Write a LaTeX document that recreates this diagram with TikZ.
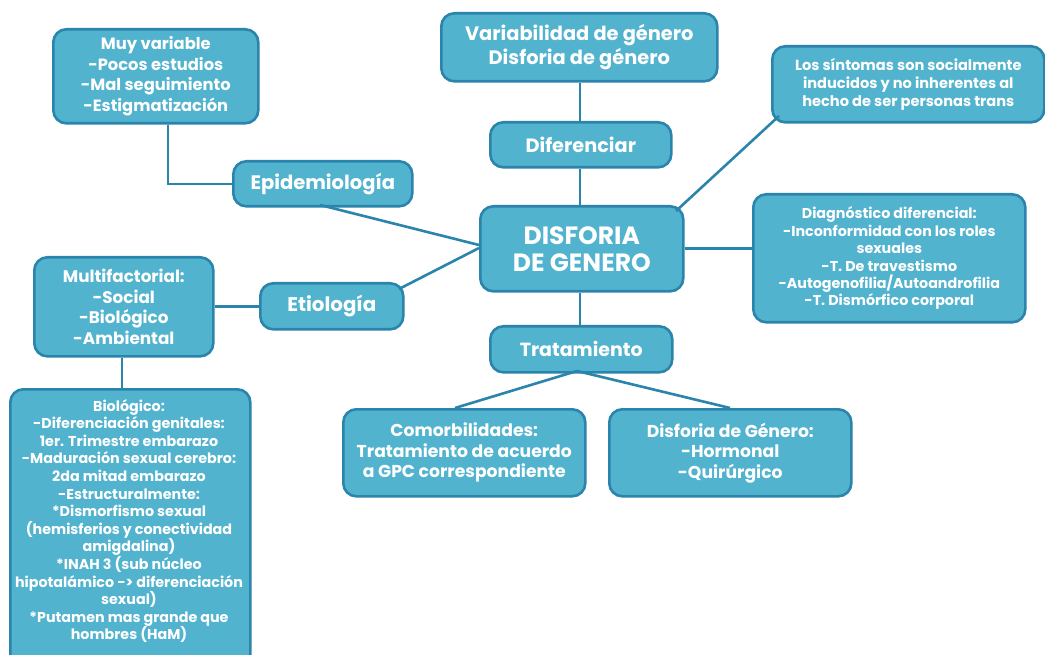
\documentclass[tikz,border=0pt]{standalone}
\usepackage{fontspec}
\setmainfont{Poppins}
\definecolor{boxfill}{HTML}{52B3CF}
\definecolor{boxline}{HTML}{2A84AC}
\begin{document}
\begin{tikzpicture}[x=1pt,y=-1pt,
  box/.style={draw=boxline, line width=2.6pt, fill=boxfill, rounded corners=13pt,
    text=white, font=\bfseries, align=center, inner sep=0pt, anchor=north west},
  link/.style={draw=boxline, line width=2.6pt}]
\useasboundingbox (0,0) rectangle (1045,655);
\fill[white] (0,0) rectangle (1045,655);
\coordinate (c1) at (168,184);
% nodes
\node[box, minimum width=205, minimum height=94, font=\bfseries\fontsize{16.3}{20.7}\selectfont] (muy) at (52,28) {Muy variable\\-Pocos estudios\\-Mal seguimiento\\-Estigmatización};
\node[box, minimum width=179, minimum height=45, font=\bfseries\fontsize{19.5}{21}\selectfont] (epi) at (232,160) {Epidemiología};
\node[box, minimum width=276, minimum height=68, font=\bfseries\fontsize{19.4}{24}\selectfont] (var) at (440,12) {Variabilidad de género\\Disforia de género};
\node[box, minimum width=181, minimum height=45, font=\bfseries\fontsize{19.3}{21}\selectfont] (dif) at (489,121) {Diferenciar};
\node[box, minimum width=272, minimum height=76, font=\bfseries\fontsize{14.6}{18}\selectfont] (sint) at (771,45) {Los síntomas son socialmente\\inducidos y no inherentes al\\hecho de ser personas trans};
\node[box, minimum width=203, minimum height=85, font=\bfseries\fontsize{25}{27}\selectfont] (dg) at (479,205) {DISFORIA\\DE GENERO};
\node[box, minimum width=272, minimum height=128, font=\bfseries\fontsize{14.3}{17.4}\selectfont] (diag) at (752,193) {Diagnóstico diferencial:\\-Inconformidad con los roles\\sexuales\\-T. De travestismo\\-Autogenofilia/Autoandrofilia\\-T. Dismórfico corporal};
\node[box, minimum width=179, minimum height=99, font=\bfseries\fontsize{16.8}{20.7}\selectfont] (multi) at (33,256) {Multifactorial:\\-Social\\-Biológico\\-Ambiental};
\node[box, minimum width=143, minimum height=46, font=\bfseries\fontsize{19.8}{21}\selectfont] (eti) at (259,282) {Etiología};
\node[box, minimum width=182, minimum height=46, font=\bfseries\fontsize{19}{21}\selectfont] (trat) at (489,325) {Tratamiento};
\node[box, minimum width=242, minimum height=87, font=\bfseries\fontsize{17.2}{20.5}\selectfont] (comor) at (342,408) {Comorbilidades:\\Tratamiento de acuerdo\\a GPC correspondiente};
\node[box, minimum width=242, minimum height=87, font=\bfseries\fontsize{17.2}{20.5}\selectfont] (dfg) at (608,408) {Disforia de Género:\\-Hormonal\\-Quirúrgico};
\node[box, minimum width=240, minimum height=280] (bio) at (9,388) {};
\node[text=white, font=\bfseries\fontsize{14.3}{17.6}\selectfont, align=center, anchor=north, inner sep=0pt] (biotext) at (129,399) {Biológico:\\-Diferenciación genitales:\\1er. Trimestre embarazo\\-Maduración sexual cerebro:\\2da mitad embarazo\\-Estructuralmente:\\*Dismorfismo sexual\\(hemisferios y conectividad\\amigdalina)\\*INAH 3 (sub núcleo\\hipotalámico -> diferenciación\\sexual)\\*Putamen mas grande que\\hombres (HaM)};
% connectors
\coordinate (vx) at (580,0);
\coordinate (bx) at (122,0);
\draw[link] (muy.south -| c1) -- (c1) -- (epi.west |- c1);
\draw[link] (var.south -| vx) -- (dif.north -| vx);
\draw[link] (dif.south -| vx) -- (dg.north -| vx);
\draw[link] (dg.south -| vx) -- (trat.north -| vx);
\draw[link] (dg.east) -- (diag.west |- dg.east);
\draw[link] (multi.east |- eti.west) -- (eti.west);
\draw[link] (multi.south -| bx) -- (bio.north -| bx);
\coordinate (e1) at (320,205);
\coordinate (d1) at (479,245);
\draw[link] (e1) -- (d1);
\coordinate (e2) at (399,289);
\coordinate (d2) at (479,248);
\draw[link] (e2) -- (d2);
\coordinate (d3) at (676,211);
\coordinate (s1) at (779,116);
\draw[link] (d3) -- (s1);
\coordinate (t1) at (577,371);
\coordinate (cm1) at (455,408);
\coordinate (df1) at (730,408);
\draw[link] (t1) -- (cm1);
\draw[link] (t1) -- (df1);
\end{tikzpicture}
\end{document}
